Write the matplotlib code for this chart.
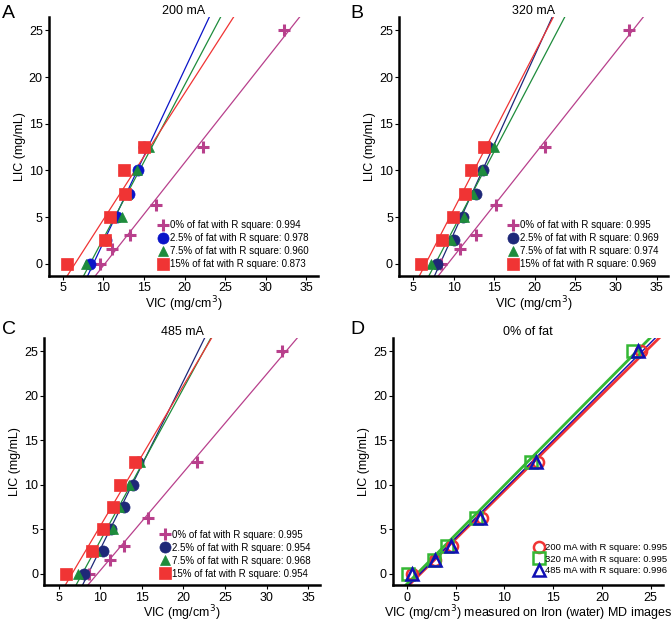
import matplotlib
matplotlib.use("Agg")
import matplotlib.pyplot as plt
import numpy as np

plt.rcParams['font.family'] = ['Liberation Sans', 'DejaVu Sans']

# LIC-Stufen
lic_0 = [0, 1.56, 3.125, 6.25, 12.5, 25]
lic_fat = [0, 2.5, 5, 7.5, 10, 12.5]

# Panel A (200 mA)
a_0 = [9.6, 11.1, 13.3, 16.5, 22.3, 32.2]
a_25 = [8.4, 10.3, 11.7, 13.1, 14.3, 15.0]
a_75 = [7.8, 10.2, 12.3, 12.9, 14.1, 15.6]
a_15 = [5.5, 10.2, 10.8, 12.7, 12.5, 15.0]
a_r2 = [0.994, 0.978, 0.960, 0.873]

# Panel B (320 mA)
b_0 = [8.4, 10.8, 12.7, 15.2, 21.2, 31.6]
b_25 = [7.9, 10.0, 11.1, 12.7, 13.6, 14.3]
b_75 = [7.2, 9.7, 11.3, 12.4, 13.5, 15.0]
b_15 = [6.0, 8.6, 9.9, 11.4, 12.1, 13.7]
b_r2 = [0.995, 0.969, 0.974, 0.969]

# Panel C (485 mA)
c_0 = [8.7, 11.2, 12.9, 15.8, 21.6, 31.8]
c_25 = [8.1, 10.4, 11.25, 12.9, 13.95, 14.6]
c_75 = [7.4, 9.5, 11.5, 12.3, 13.5, 14.8]
c_15 = [5.9, 9.0, 10.4, 11.6, 12.4, 14.2]
c_r2 = [0.995, 0.954, 0.968, 0.954]

# Panel D (0 % Fett, Iron (water) MD)
d_200 = [0.5, 2.9, 4.6, 7.7, 13.5, 24.0]
d_320 = [0.1, 2.8, 4.1, 7.1, 12.7, 23.2]
d_485 = [0.5, 2.9, 4.5, 7.5, 13.2, 23.7]
d_r2 = [0.995, 0.995, 0.996]

fat_labels = ["0%", "2.5%", "7.5%", "15%"]
ma_labels = ["200 mA", "320 mA", "485 mA"]

purple = '#b8408c'
green = '#1e8c3c'
red = '#f03434'


def style_ax(ax, xlim, xticks, xlabel):
    ax.set_xlim(*xlim)
    ax.set_ylim(-1.3, 26.45)
    ax.set_xticks(xticks)
    ax.set_yticks([0, 5, 10, 15, 20, 25])
    for s in ['top', 'right']:
        ax.spines[s].set_visible(False)
    for s in ['left', 'bottom']:
        ax.spines[s].set_linewidth(1.8)
    ax.tick_params(direction='out', length=3, width=0.8, labelsize=9, pad=1.5)
    ax.set_xlabel(xlabel, fontsize=9, labelpad=0)
    ax.set_ylabel("LIC (mg/mL)", fontsize=9, labelpad=2)


def fit_line(ax, x, y, color, lw=0.9):
    k, d = np.polyfit(x, y, 1)
    xs = np.array([-5, 45])
    ax.plot(xs, k * xs + d, color=color, lw=lw, zorder=1)


def fat_panel(ax, title, series, r2, blue):
    colors = [purple, blue, green, red]
    markers = ['+', 'o', '^', 's']
    sizes = [9, 8, 7, 8]
    for i, vic in enumerate(series):
        lic = lic_0 if i == 0 else lic_fat
        fit_line(ax, vic, lic, colors[i])
    for i, vic in enumerate(series):
        lic = lic_0 if i == 0 else lic_fat
        ax.plot(vic, lic, ls='none', marker=markers[i], ms=sizes[i],
                color=colors[i], mew=2.2 if i == 0 else 0.5, zorder=2 + i,
                label=fat_labels[i] + " of fat with R square: %.3f" % r2[i])
    ax.legend(loc='lower right', bbox_to_anchor=(0.99, 0.0), frameon=False,
              fontsize=7.0, handlelength=0.8, handletextpad=0.3,
              labelspacing=0.3, borderpad=0.2)
    ax.set_title(title, fontsize=9, pad=-6)
    style_ax(ax, (3.3, 36.4), [5, 10, 15, 20, 25, 30, 35],
             "VIC (mg/cm$^3$)")


fig = plt.figure(figsize=(6.72, 6.24), dpi=100)
ax_a = fig.add_axes([0.073, 0.558, 0.400, 0.415])
ax_b = fig.add_axes([0.594, 0.558, 0.400, 0.415])
ax_c = fig.add_axes([0.066, 0.062, 0.410, 0.396])
ax_d = fig.add_axes([0.585, 0.062, 0.402, 0.396])

fat_panel(ax_a, "200 mA", [a_0, a_25, a_75, a_15], a_r2, '#0a14c8')
fat_panel(ax_b, "320 mA", [b_0, b_25, b_75, b_15], b_r2, '#1e2878')
fat_panel(ax_c, "485 mA", [c_0, c_25, c_75, c_15], c_r2, '#1e2878')

# Panel D
d_colors = [red, '#34b834', '#1010b4']
d_markers = ['o', 's', '^']
d_lw = [2.0, 2.0, 1.0]
for vic, c, lw in zip([d_200, d_320, d_485], d_colors, d_lw):
    fit_line(ax_d, vic, lic_0, c, lw)
for i, vic in enumerate([d_200, d_320, d_485]):
    ax_d.plot(vic, lic_0, ls='none', marker=d_markers[i], ms=8,
              mfc='none', mec=d_colors[i], mew=1.8, zorder=3 + i,
              label=ma_labels[i] + " with R square: %.3f" % d_r2[i])
ax_d.legend(loc='lower right', bbox_to_anchor=(1.04, 0.015), frameon=False,
            fontsize=6.8, handlelength=0.8, handletextpad=0.3,
            labelspacing=0.25, borderpad=0.2)
ax_d.set_title("0% of fat", fontsize=9, pad=-6)
style_ax(ax_d, (-1.4, 26.3), [0, 5, 10, 15, 20, 25],
         "VIC (mg/cm$^3$) measured on Iron (water) MD images")

for lbl, x, y in [("A", 0.003, 0.978), ("B", 0.522, 0.978),
                  ("C", 0.003, 0.472), ("D", 0.522, 0.472)]:
    fig.text(x, y, lbl, fontsize=14, va='center')

fig.savefig("out.png", dpi=100)
